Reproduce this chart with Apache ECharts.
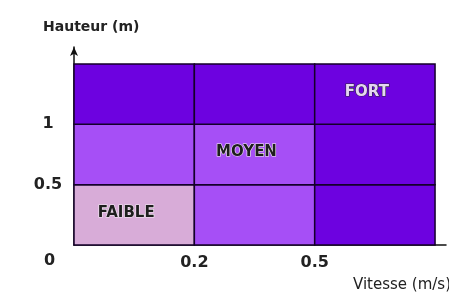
<!DOCTYPE html>
<html>
<head>
<meta charset="utf-8">
<script src="https://cdn.jsdelivr.net/npm/echarts@6/dist/echarts.min.js"></script>
<style>
html, body { margin: 0; padding: 0; background: #fff; }
#main { width: 449px; height: 296px; }
</style>
</head>
<body>
<div id="main"></div>
<script>
// tick labels sit on the cell boundaries (index 0, 1, 2)
var xTickLabels = ['0', '0.2', '0.5'];
var yTickLabels = ['0', '0.5', '1'];
// levels per row, bottom row first
var levelRows = [
    [0, 1, 2],
    [1, 1, 2],
    [2, 2, 2]
];
var levelNames = ['FAIBLE', 'MOYEN', 'FORT'];
var levelColors = ['#d8acd8', '#a64ff6', '#6d02e0'];
// cells that carry the level name
var namedCells = [[0, 0], [1, 1], [2, 2]];

var myChart = echarts.init(document.getElementById('main'));

function isNamed(c, r) {
    for (var i = 0; i < namedCells.length; i++) {
        if (namedCells[i][0] === c && namedCells[i][1] === r) return true;
    }
    return false;
}

var cells = [];
for (var r = 0; r < levelRows.length; r++) {
    for (var c = 0; c < levelRows[r].length; c++) {
        var lv = levelRows[r][c];
        cells.push([c, r, lv, isNamed(c, r) ? levelNames[lv] : '']);
    }
}

function renderCell(params, api) {
    var x = api.value(0), y = api.value(1), lv = api.value(2);
    var p0 = api.coord([x, y]);
    var p1 = api.coord([x + 1, y + 1]);
    var label = cells[params.dataIndex][3];
    var children = [{
        type: 'rect',
        shape: { x: p0[0], y: p1[1], width: p1[0] - p0[0], height: p0[1] - p1[1] },
        style: { fill: levelColors[lv], stroke: '#14002a', lineWidth: 1.5 }
    }];
    if (label) {
        var light = lv === 2;
        children.push({
            type: 'text',
            style: {
                text: label,
                x: (p0[0] + p1[0]) / 2 - 8,
                y: (p0[1] + p1[1]) / 2 - 2,
                align: 'center',
                verticalAlign: 'middle',
                font: 'bold 15px "DejaVu Sans"',
                fill: light ? '#e6d6f2' : '#1e1e1e',
                stroke: light ? '#2a2a3a' : '#f2eaf2',
                lineWidth: 1.2
            },
            z2: 10
        });
    }
    return { type: 'group', children: children };
}

var option = {
    animation: false,
    grid: { left: 74, right: 2, top: 47, bottom: 51 },
    xAxis: {
        type: 'value',
        min: 0,
        max: 3.091,
        interval: 1,
        splitLine: { show: false },
        axisTick: { show: false },
        axisLine: { lineStyle: { color: '#111', width: 1.5 } },
        axisLabel: {
            margin: 10,
            color: '#222',
            fontWeight: 'bold',
            fontSize: 16,
            fontFamily: 'DejaVu Sans',
            formatter: function(v) {
                return (v > 0 && v < xTickLabels.length) ? xTickLabels[v] : '';
            }
        }
    },
    yAxis: {
        type: 'value',
        min: 0,
        max: 3.282,
        interval: 1,
        splitLine: { show: false },
        axisTick: { show: false },
        axisLine: {
            lineStyle: { color: '#111', width: 1.5 },
            symbol: ['none', 'arrow'],
            symbolSize: [6, 9]
        },
        axisLabel: {
            margin: 26,
            align: 'center',
            color: '#222',
            fontWeight: 'bold',
            fontSize: 16,
            fontFamily: 'DejaVu Sans',
            formatter: function(v) {
                return (v > 0 && v < yTickLabels.length) ? yTickLabels[v] : '';
            }
        }
    },
    graphic: [
        { type: 'text', left: 44, top: 253, style: { text: xTickLabels[0], font: 'bold 16px "DejaVu Sans"', fill: '#222' } },
        { type: 'text', left: 43, top: 20, style: { text: 'Hauteur (m)', font: 'bold 14px "DejaVu Sans"', fill: '#222' } },
        { type: 'text', left: 353, top: 278, style: { text: 'Vitesse (m/s)', font: '15px "DejaVu Sans"', fill: '#222' } }
    ],
    series: [{
        type: 'custom',
        renderItem: renderCell,
        encode: { x: 0, y: 1 },
        data: cells
    }]
};
myChart.setOption(option);
</script>
</body>
</html>
